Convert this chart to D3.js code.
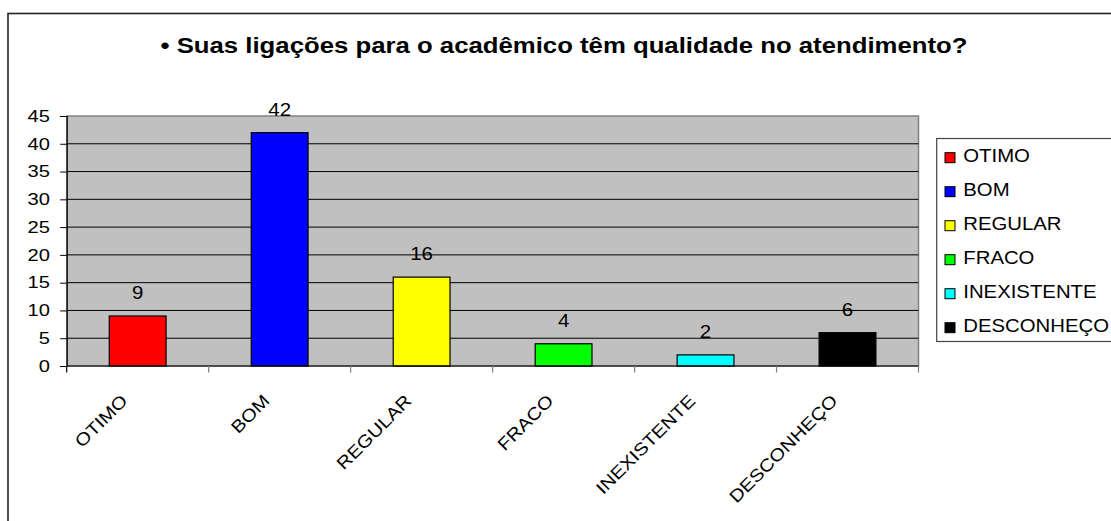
<!DOCTYPE html>
<html>
<head>
<meta charset="utf-8">
<script src="https://cdn.jsdelivr.net/npm/d3@7"></script>
<style>
  body { margin: 0; background: #fff; }
  text { font-family: "Liberation Sans", Arial, sans-serif; fill: #000; }
</style>
</head>
<body>
<svg width="1111" height="521"></svg>
<script>
var categories = ["OTIMO", "BOM", "REGULAR", "FRACO", "INEXISTENTE", "DESCONHEÇO"];
var values = [9, 42, 16, 4, 2, 6];
var colors = ["#ff0000", "#0000ff", "#ffff00", "#00ff00", "#00ffff", "#000000"];
var yTicks = [0, 5, 10, 15, 20, 25, 30, 35, 40, 45];
var title = "• Suas ligações para o acadêmico têm qualidade no atendimento?";

var svg = d3.select("svg");

// the original picture is a bit stretched sideways, so text gets a small x scale
function label(parent, x, y, str, size, sx, anchor, rot) {
  var g = parent.append("g")
    .attr("transform", "translate(" + x + "," + y + ")" + (rot ? " rotate(" + rot + ")" : ""));
  return g.append("text")
    .attr("transform", "scale(" + sx + ",1)")
    .attr("text-anchor", anchor || "start")
    .style("font-size", size + "px")
    .text(str);
}

// outer chart frame (runs off the right and bottom of the picture)
svg.append("rect")
  .attr("x", 8).attr("y", 13.5)
  .attr("width", 1130).attr("height", 530)
  .attr("fill", "#fff")
  .attr("stroke", "#222")
  .attr("stroke-width", 1.6);

label(svg, 564, 53, title, 22, 1.17, "middle").style("font-weight", "bold");

var plot = { left: 66.7, top: 116, right: 918.5, bottom: 366 };

var x = d3.scaleBand()
  .domain(categories)
  .range([plot.left, plot.right])
  .paddingInner(0.6)
  .paddingOuter(0.3);

var y = d3.scaleLinear()
  .domain([0, 45])
  .range([plot.bottom, plot.top]);

svg.append("rect")
  .attr("x", plot.left).attr("y", plot.top)
  .attr("width", plot.right - plot.left)
  .attr("height", plot.bottom - plot.top)
  .attr("fill", "#c0c0c0")
  .attr("stroke", "#808080")
  .attr("stroke-width", 1.5);

// gridlines
svg.append("g")
  .selectAll("line")
  .data(yTicks.filter(function(d) { return d > 0 && d < 45; }))
  .enter().append("line")
    .attr("x1", plot.left).attr("x2", plot.right)
    .attr("y1", function(d) { return y(d); })
    .attr("y2", function(d) { return y(d); })
    .attr("stroke", "#000")
    .attr("stroke-width", 1);

// bars
svg.append("g")
  .selectAll("rect")
  .data(values)
  .enter().append("rect")
    .attr("x", function(d, i) { return x(categories[i]); })
    .attr("y", function(d) { return y(d); })
    .attr("width", x.bandwidth())
    .attr("height", function(d) { return y(0) - y(d); })
    .attr("fill", function(d, i) { return colors[i]; })
    .attr("stroke", "#000")
    .attr("stroke-width", 1.2);

// value labels
var vl = svg.append("g");
values.forEach(function(d, i) {
  label(vl, x(categories[i]) + x.bandwidth() / 2, y(d) - 17, d, 17.5, 1.17, "middle");
});

// y axis
var yAxis = svg.append("g")
  .attr("transform", "translate(" + plot.left + ",0)")
  .call(d3.axisLeft(y).tickValues(yTicks).tickSize(6.5).tickFormat(""));
yAxis.select(".domain").attr("stroke", "#000").attr("stroke-width", 1.2);
yAxis.selectAll(".tick line").attr("stroke", "#000");
var yl = svg.append("g");
yTicks.forEach(function(t) {
  label(yl, 50, y(t) + 5.8, t, 16.5, 1.22, "end");
});

// x axis: ticks at band boundaries
var step = x.step();
var xAxis = svg.append("g");
xAxis.append("line")
  .attr("x1", plot.left).attr("x2", plot.right)
  .attr("y1", plot.bottom).attr("y2", plot.bottom)
  .attr("stroke", "#000").attr("stroke-width", 1.2);
xAxis.selectAll(".xt")
  .data(d3.range(categories.length + 1))
  .enter().append("line")
    .attr("class", "xt")
    .attr("x1", function(i) { return plot.left + i * step; })
    .attr("x2", function(i) { return plot.left + i * step; })
    .attr("y1", plot.bottom).attr("y2", plot.bottom + 6.5)
    .attr("stroke", function(i) { return i === 0 ? "#000" : "#808080"; })
    .attr("stroke-width", 1.2);

categories.forEach(function(c) {
  label(xAxis, x(c) + x.bandwidth() / 2 - 9, plot.bottom + 36, c, 17.5, 1.15, "end", -45);
});

// legend
var legend = svg.append("g");
legend.append("rect")
  .attr("x", 936.7).attr("y", 138.5)
  .attr("width", 200).attr("height", 203)
  .attr("fill", "#fff")
  .attr("stroke", "#444")
  .attr("stroke-width", 1.2);

categories.forEach(function(c, i) {
  var base = 161.7 + i * 34;
  legend.append("rect")
    .attr("x", 945).attr("y", base - 9)
    .attr("width", 10).attr("height", 10)
    .attr("fill", colors[i])
    .attr("stroke", "#000")
    .attr("stroke-width", 1);
  label(legend, 963.3, base, c, 18, 1.13, "start");
});
</script>
</body>
</html>
